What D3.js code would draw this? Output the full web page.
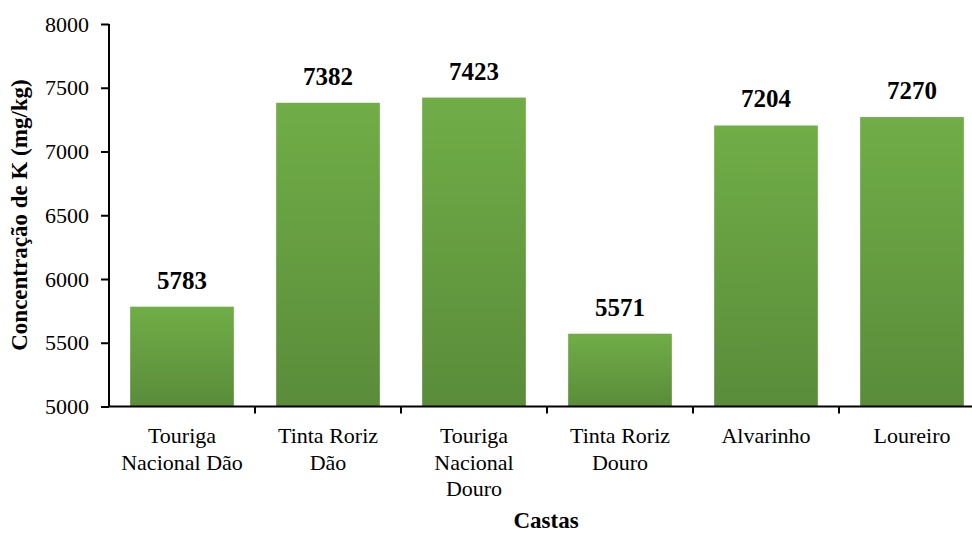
<!DOCTYPE html>
<html>
<head>
<meta charset="utf-8">
<style>
    body { margin: 0; background: #fff; }
    svg { font-family: "Liberation Serif", "Times New Roman", serif; }
    .axis path, .axis line { stroke: #000; stroke-width: 2; }
    .axis text { font-size: 22px; fill: #000; }
    .value { font-size: 25px; font-weight: bold; }
    .title { font-size: 23px; font-weight: bold; }
</style>
</head>
<body>
<script src="https://d3js.org/d3.v7.min.js"></script>
<script>

    var categories = [
        ["Touriga", "Nacional Dão"],
        ["Tinta Roriz", "Dão"],
        ["Touriga", "Nacional", "Douro"],
        ["Tinta Roriz", "Douro"],
        ["Alvarinho"],
        ["Loureiro"]
    ];
    var values = [5783, 7382, 7423, 5571, 7204, 7270];
    var yTicks = [5000, 5500, 6000, 6500, 7000, 7500, 8000];

    var width = 972, height = 534;
    var plotLeft = 109, plotRight = 985, plotTop = 24, plotBottom = 406.5;
    var serif = "'Liberation Serif', 'Times New Roman', serif";

    var svg = d3.select("body").append("svg")
        .attr("width", width)
        .attr("height", height);

    var grad = svg.append("defs").append("linearGradient")
        .attr("id", "barGrad")
        .attr("x1", 0).attr("y1", 0).attr("x2", 0).attr("y2", 1);
    grad.append("stop").attr("offset", "0%").attr("stop-color", "#70ad47");
    grad.append("stop").attr("offset", "100%").attr("stop-color", "#5a8c3a");

    var x = d3.scaleBand()
        .domain(d3.range(categories.length))
        .range([plotLeft, plotRight])
        .paddingInner(0.29)
        .paddingOuter(0.145);

    var y = d3.scaleLinear()
        .domain([5000, 8000])
        .range([plotBottom, plotTop]);

    svg.append("g").selectAll("rect")
        .data(values)
        .enter().append("rect")
        .attr("x", function(d, i) { return x(i); })
        .attr("width", x.bandwidth())
        .attr("y", function(d) { return y(d); })
        .attr("height", function(d) { return plotBottom - y(d); })
        .attr("fill", "url(#barGrad)");

    svg.append("g").selectAll("text")
        .data(values)
        .enter().append("text")
        .attr("class", "value")
        .attr("x", function(d, i) { return x(i) + x.bandwidth() / 2; })
        .attr("y", function(d) { return y(d) - 18; })
        .attr("text-anchor", "middle")
        .text(function(d) { return d; });

    // y axis
    var yAxis = svg.append("g")
        .attr("class", "axis")
        .attr("transform", "translate(" + plotLeft + ",0)")
        .call(d3.axisLeft(y).tickValues(yTicks).tickSize(8).tickSizeOuter(0).tickPadding(12).tickFormat(d3.format("d")));
    yAxis.attr("font-family", serif).attr("font-size", 22);
    yAxis.selectAll("text").style("font-family", serif).style("font-size", "22px");
    yAxis.select(".domain").attr("d", "M0," + plotBottom + "V" + plotTop);

    // x axis: ticks at category boundaries
    var step = x.step();
    var xStart = x(0) - x.paddingInner() * step / 2;
    var boundaries = d3.range(categories.length + 1).map(function(i) { return xStart + i * step; });
    var xAxis = svg.append("g").attr("class", "axis");
    xAxis.append("line")
        .attr("x1", plotLeft).attr("x2", width)
        .attr("y1", plotBottom).attr("y2", plotBottom);
    xAxis.selectAll(".tick")
        .data(boundaries.slice(1, categories.length))
        .enter().append("line")
        .attr("x1", function(d) { return d; }).attr("x2", function(d) { return d; })
        .attr("y1", plotBottom).attr("y2", plotBottom + 7);

    var labels = xAxis.selectAll(".lab")
        .data(categories)
        .enter().append("text")
        .attr("text-anchor", "middle")
        .attr("x", function(d, i) { return x(i) + x.bandwidth() / 2; })
        .attr("y", 443);
    labels.selectAll("tspan")
        .data(function(d) { return d; })
        .enter().append("tspan")
        .attr("x", function() { return this.parentNode.getAttribute("x"); })
        .attr("dy", function(d, i) { return i === 0 ? 0 : 26.5; })
        .text(function(d) { return d; });

    svg.append("text")
        .attr("class", "title")
        .attr("text-anchor", "middle")
        .attr("x", 546)
        .attr("y", 528)
        .text("Castas");

    svg.append("text")
        .attr("class", "title")
        .attr("text-anchor", "middle")
        .attr("transform", "translate(27,215) rotate(-90)")
        .text("Concentração de K (mg/kg)");

</script>
</body>
</html>
